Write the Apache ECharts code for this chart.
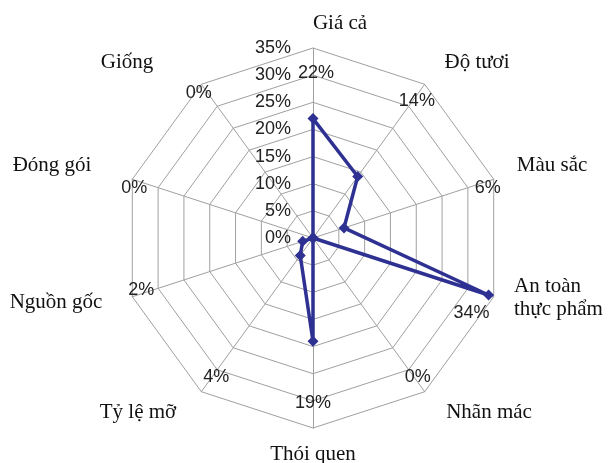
<!DOCTYPE html>
<html>
<head>
<meta charset="utf-8">
<script src="https://cdn.jsdelivr.net/npm/echarts@6/dist/echarts.min.js"></script>
<style>
  html, body { margin: 0; padding: 0; background: #fff; }
  #chart { width: 608px; height: 463px; }
</style>
</head>
<body>
<div id="chart"></div>
<script>
// data
var categories = ['Giá cả', 'Độ tươi', 'Màu sắc', 'An toàn\nthực phẩm', 'Nhãn mác',
                  'Thói quen', 'Tỷ lệ mỡ', 'Nguồn gốc', 'Đóng gói', 'Giống'];
var values = [22, 14, 6, 34, 0, 19, 4, 2, 0, 0];
var axisMax = 35;
var axisStep = 5;

// where Excel dropped the data labels: [radius in %, dx, dy]
var labelSpots = [[30.4, 3, 0], [31.3, 4, 0], [35, -6, 9], [34, -17, 18], [31.6, 4, 0],
                  [30.4, 0, 0], [31.6, 4, 0], [35, 9, -7], [35, 2, 9], [33, -9, 0]];
// category name anchors (Excel puts them at uneven distances), [x, y, align]
var namePos = [[340, 23, 'center'], [477, 62, 'center'], [552, 165, 'center'],
               [514, 298, 'left'], [489, 412, 'center'], [313, 454, 'center'],
               [138, 412, 'center'], [56, 302, 'center'], [52, 165, 'center'],
               [127, 62, 'center']];

var cx = 313, cy = 238, R = 190;
var lineColor = '#2e3192';
var gridColor = '#a0a0a0';

// echarts radar runs counter-clockwise, Excel runs clockwise -> flip order (keep first)
var order = [0];
for (var k = categories.length - 1; k > 0; k--) order.push(k);

var chart = echarts.init(document.getElementById('chart'));

var labels = values.map(function (v, i) {
    var ang = Math.PI / 2 - i * 2 * Math.PI / categories.length;
    var s = labelSpots[i];
    var d = s[0] / axisMax * R;
    return {
        type: 'text',
        x: cx + d * Math.cos(ang) + s[1],
        y: cy - d * Math.sin(ang) + s[2],
        style: {
            text: v + '%',
            fill: '#222',
            font: '18px "Liberation Sans", Arial',
            textAlign: 'center',
            textVerticalAlign: 'middle'
        },
        z: 10
    };
});

var names = categories.map(function (c, i) {
    var p = namePos[i];
    return {
        type: 'text',
        x: p[0],
        y: p[1],
        style: {
            text: c,
            fill: '#111',
            font: '21px "Liberation Serif", serif',
            lineHeight: 23,
            textAlign: p[2],
            textVerticalAlign: 'middle'
        },
        z: 10
    };
});

chart.setOption({
    backgroundColor: '#fff',
    animation: false,
    radar: {
        center: [cx, cy],
        radius: R,
        startAngle: 90,
        shape: 'polygon',
        splitNumber: axisMax / axisStep,
        indicator: order.map(function (i) { return { name: categories[i], min: 0, max: axisMax }; }),
        axisName: { show: false },
        axisLine: { lineStyle: { color: gridColor, width: 1 } },
        splitLine: { lineStyle: { color: gridColor, width: 1 } },
        splitArea: { show: false },
        axisTick: { show: false },
        axisLabel: { show: false }
    },
    polar: { center: [cx, cy], radius: R },
    angleAxis: { startAngle: 90, show: false, min: 0, max: 360 },
    radiusAxis: {
        min: 0,
        max: axisMax,
        interval: axisStep,
        axisLine: { show: false },
        axisTick: { show: false },
        splitLine: { show: false },
        axisLabel: {
            formatter: '{value}%',
            color: '#222',
            fontFamily: '"Liberation Sans", Arial',
            fontSize: 18,
            margin: 22
        }
    },
    series: [{
        type: 'radar',
        symbol: 'diamond',
        symbolSize: 11,
        lineStyle: { color: lineColor, width: 3.5 },
        itemStyle: { color: lineColor },
        data: [{ value: order.map(function (i) { return values[i]; }) }]
    }],
    graphic: labels.concat(names)
});
</script>
</body>
</html>
